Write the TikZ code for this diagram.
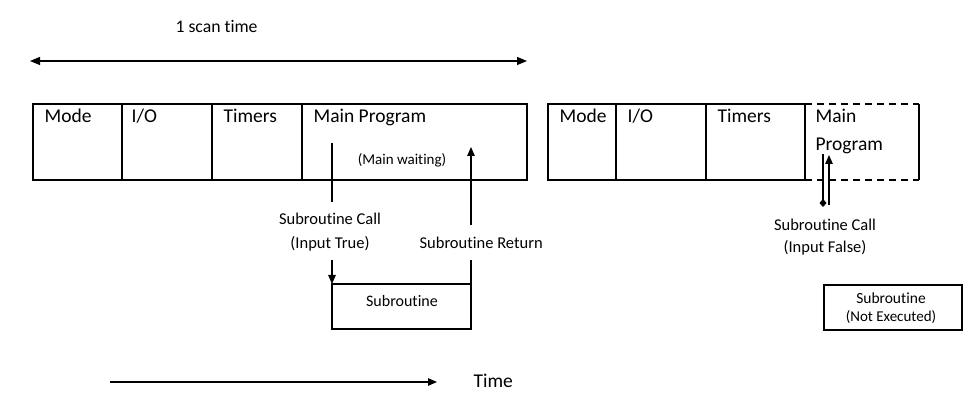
\documentclass[tikz,border=0pt]{standalone}
\usepackage{fontspec}
\setmainfont{Carlito}[Ligatures={NoCommon,NoDiscretionary,NoRare}]
\usetikzlibrary{arrows.meta}
\begin{document}
\begin{tikzpicture}[x=1pt,y=-1pt, line width=1.2pt,
  seg/.style={draw, anchor=north west, minimum height=76pt, inner sep=0pt, outer sep=0pt},
  segnd/.style={anchor=north west, minimum height=76pt, inner sep=0pt, outer sep=0pt},
  subbox/.style={draw, anchor=north west, minimum height=45pt, inner sep=0pt, outer sep=0pt},
  lbl/.style={anchor=base west, inner sep=0pt, font=\fontsize{19.5}{22}\selectfont},
  sublbl/.style={anchor=base, inner sep=0pt, font=\fontsize{16.5}{20}\selectfont},
  smalllbl/.style={anchor=base, inner sep=0pt, font=\fontsize{15}{18}\selectfont},
  tip/.style={-{Triangle[length=9pt,width=7.5pt]}}]
\useasboundingbox (0,0) rectangle (975,403);

% scan time
\node[anchor=base west, inner sep=0pt, font=\fontsize{17.7}{20}\selectfont] (scan) at (175,33) {1 scan time};
\coordinate (s1) at (30,61);
\coordinate (s2) at (527,61);
\draw[{Triangle[length=10pt,width=8pt]}-{Triangle[length=10pt,width=8pt]}] (s1) -- (s2);

% left scan
\node[seg, minimum width=89pt] (mode) at (33,104) {};
\node[seg, minimum width=90pt] (io) at (122,104) {};
\node[seg, minimum width=90pt] (tim) at (212,104) {};
\node[seg, minimum width=225pt] (main) at (302,104) {};
\node[lbl] (tmode) at (44,123) {Mode};
\node[lbl] (tio) at (131,123) {I/O};
\node[lbl] (ttim) at (223,123) {Timers};
\node[lbl] (tmain) at (313,123) {Main Program};
\node[smalllbl] (wait) at (402,165) {(Main waiting)};

% subroutine call / return
\node[subbox, minimum width=139pt] (sub) at (332,284) {};
\node[sublbl, font=\fontsize{16}{19}\selectfont] (tsub) at (402,307) {Subroutine};
\coordinate (c1) at (332,143);
\coordinate (c2) at (332,202);
\coordinate (c3) at (332,260);
\draw (c1) -- (c2);
\draw[tip] (c3) -- (sub.north west);
\node[sublbl] (callT) at (330,225) {Subroutine Call};
\node[sublbl] (inT) at (330,249) {(Input True)};
\coordinate (r1) at (471,260);
\coordinate (r2) at (471,225);
\coordinate (r3) at (471,147);
\draw (sub.north east) -- (r1);
\draw[tip] (r2) -- (r3);
\node[anchor=base west, inner sep=0pt, font=\fontsize{16.5}{20}\selectfont] (ret) at (419,249) {Subroutine Return};

% right scan
\node[seg, minimum width=68pt] (mode2) at (548,104) {};
\node[seg, minimum width=90pt] (io2) at (616,104) {};
\node[seg, minimum width=99pt] (tim2) at (706,104) {};
\node[segnd, minimum width=114pt] (main2) at (805,104) {};
\draw[dash pattern=on 7pt off 5pt] (main2.north west) -- (main2.north east);
\draw[dash pattern=on 7pt off 5pt] (main2.south west) -- (main2.south east);
\draw (main2.north east) -- (main2.south east);
\node[lbl] (tmode2) at (559,123) {Mode};
\node[lbl] (tio2) at (627,123) {I/O};
\node[lbl] (ttim2) at (717,123) {Timers};
\node[lbl] (tmain2) at (815,123) {Main};
\node[lbl] (tprog2) at (815,151) {Program};

\coordinate (f1) at (823,154);
\coordinate (f2) at (823,207);
\coordinate (f3) at (829,205);
\coordinate (f4) at (829,155);
\draw[-{Diamond[length=8pt,width=7pt]}] (f1) -- (f2);
\draw[tip] (f3) -- (f4);
\node[sublbl] (callF) at (825,231) {Subroutine Call};
\node[sublbl] (inF) at (825,253) {(Input False)};

\node[subbox, minimum width=138pt] (sub2) at (824,285) {};
\node[smalllbl, font=\fontsize{15.5}{18}\selectfont] (tsub2) at (891,304) {Subroutine};
\node[smalllbl] (tnot) at (891,322) {(Not Executed)};

% time axis
\coordinate (t1) at (110,382);
\coordinate (t2) at (437,382);
\draw[tip] (t1) -- (t2);
\node[anchor=base west, inner sep=0pt, font=\fontsize{19.5}{22}\selectfont] (time) at (473,388) {Time};
\end{tikzpicture}
\end{document}
